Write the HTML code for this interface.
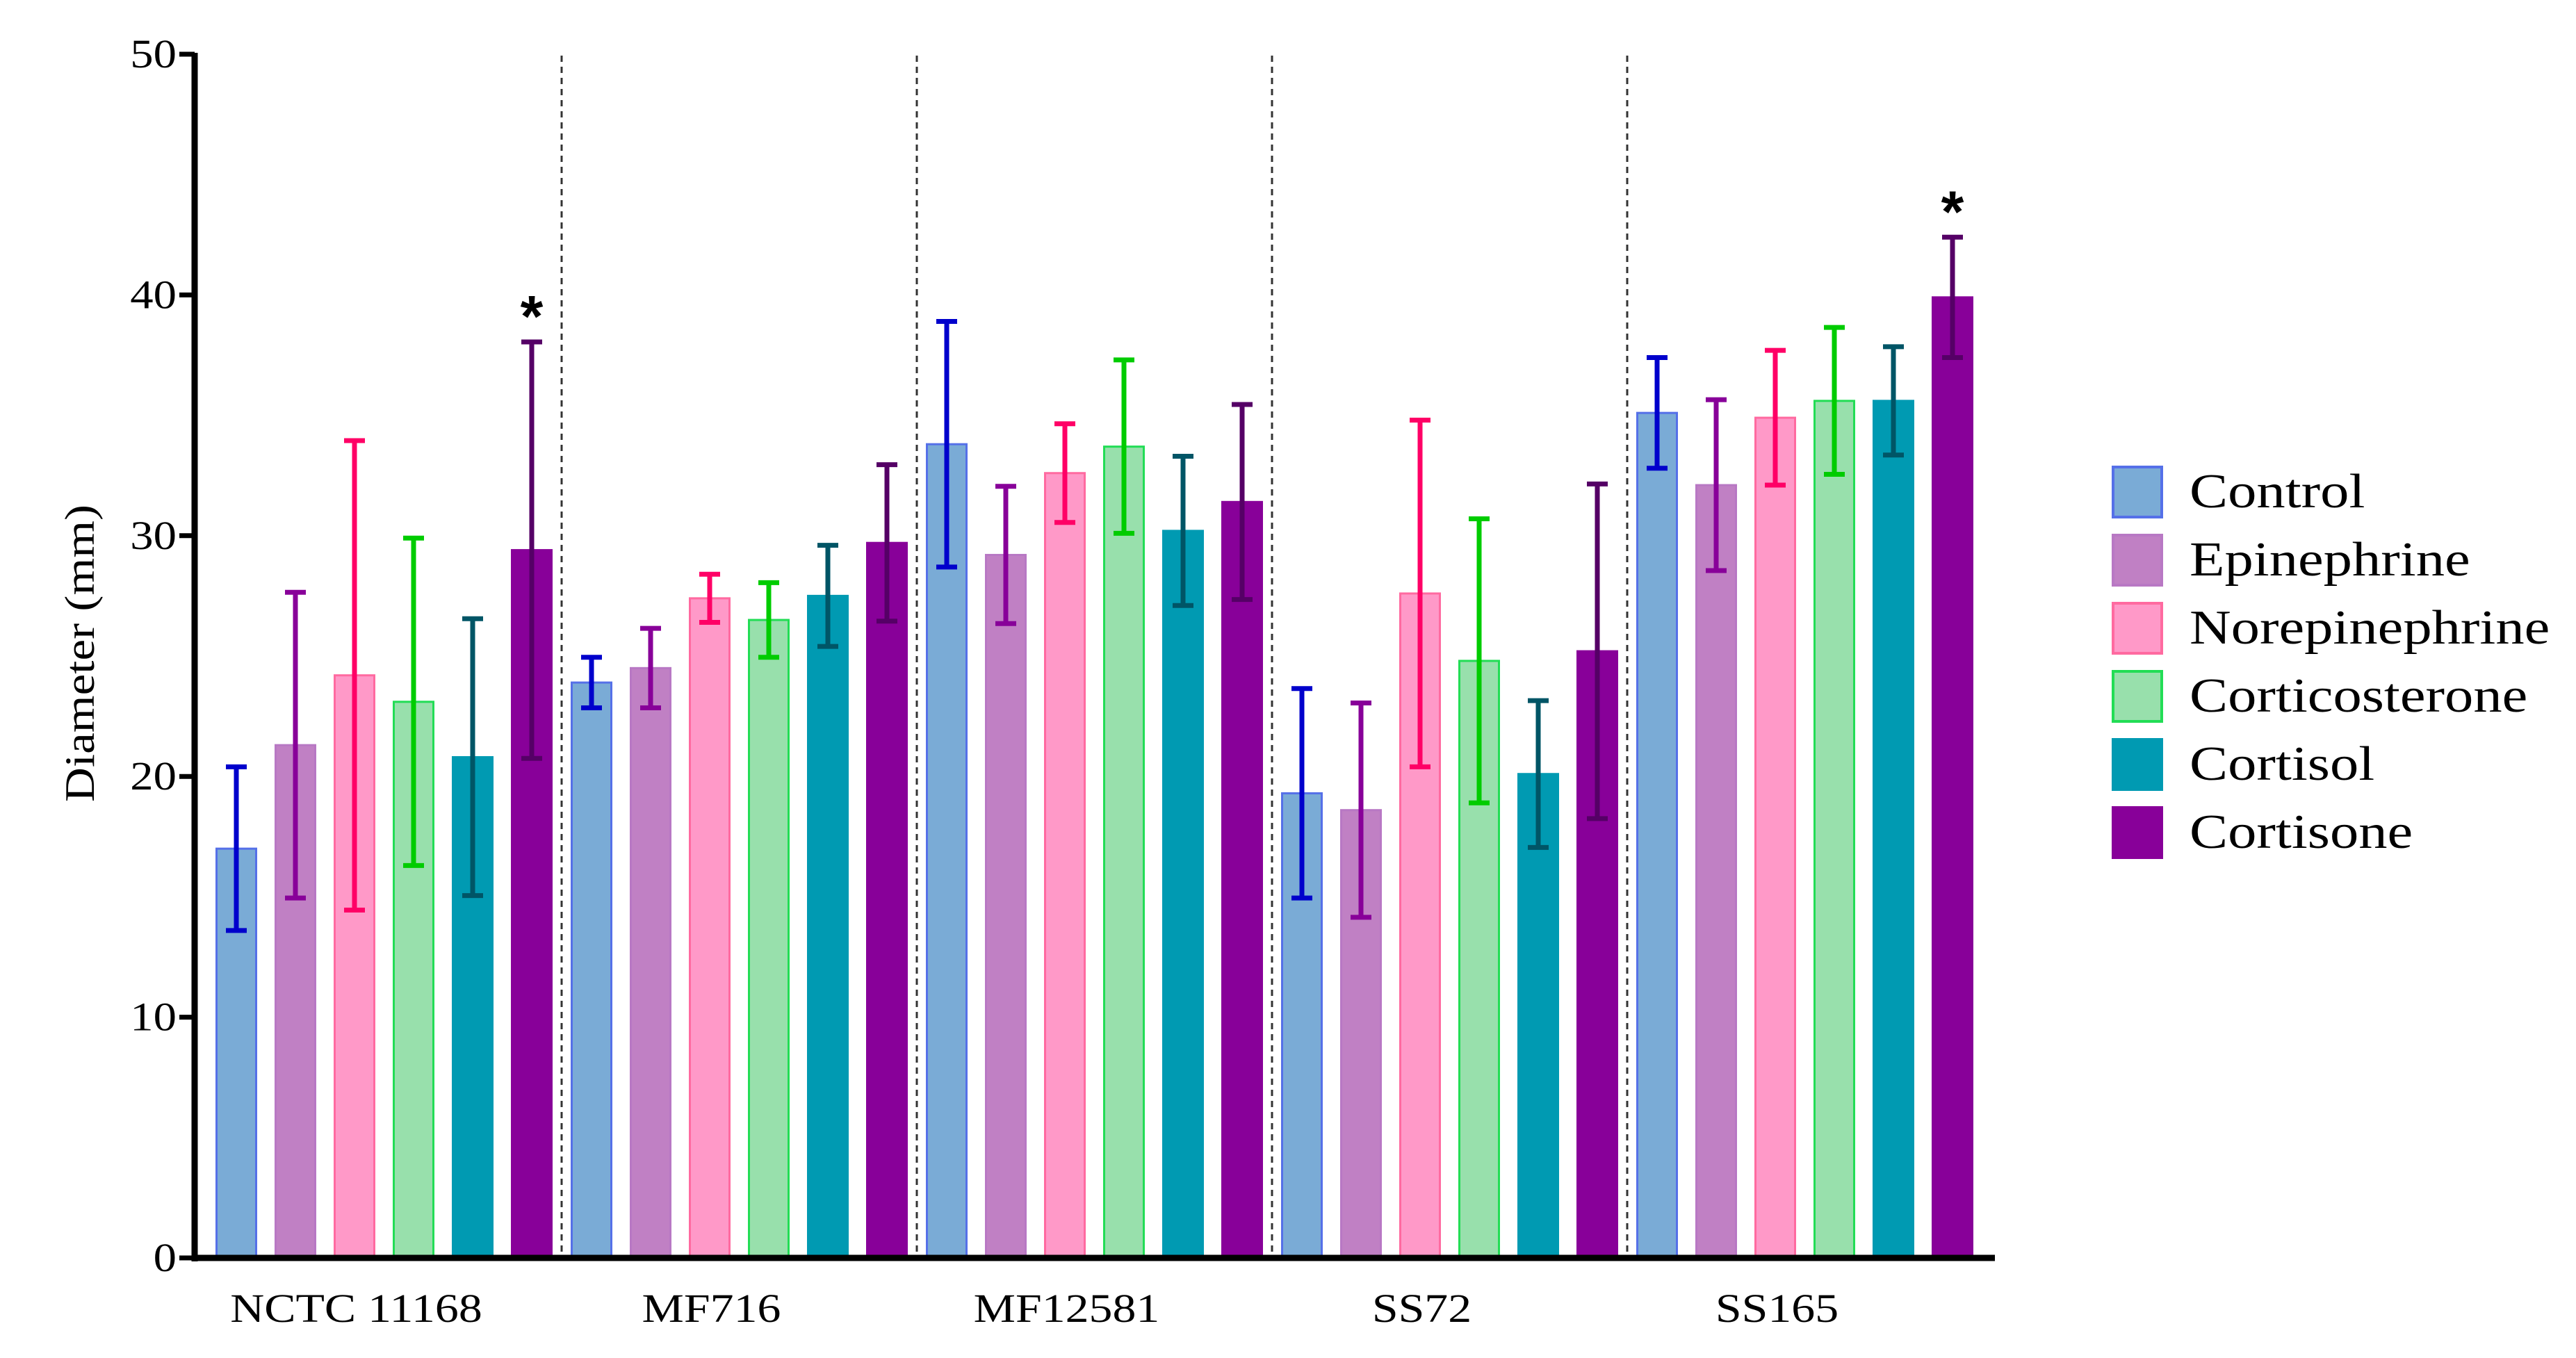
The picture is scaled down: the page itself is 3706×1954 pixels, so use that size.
<!DOCTYPE html>
<html><head><meta charset="utf-8"><style>
html,body{margin:0;padding:0;background:#fff;}
svg{display:block;font-family:"Liberation Serif",serif;}
</style></head><body>
<svg id="chart" width="3706" height="1954" viewBox="0 0 3706 1954" xmlns="http://www.w3.org/2000/svg"></svg>
<script>
const groups = ["NCTC 11168","MF716","MF12581","SS72","SS165"];
const seriesNames = ["Control","Epinephrine","Norepinephrine","Corticosterone","Cortisol","Cortisone"];
const controlVals = [17.0,23.9,33.8,19.3,35.1];
const controlErr = [3.4,1.05,5.1,4.35,2.3];
const epiVals = [21.3,24.5,29.2,18.6,32.1];
const epiErr = [6.35,1.65,2.85,4.45,3.55];
const norVals = [24.2,27.4,32.6,27.6,34.9];
const norErr = [9.75,1.0,2.05,7.2,2.8];
const corticostVals = [23.1,26.5,33.7,24.8,35.6];
const corticostErr = [6.8,1.55,3.6,5.9,3.05];
const cortisolVals = [20.8,27.5,30.2,20.1,35.6];
const cortisolErr = [5.75,2.1,3.1,3.05,2.25];
const cortisoneVals = [29.4,29.7,31.4,25.2,39.9];
const cortisoneErr = [8.65,3.25,4.05,6.95,2.5];
const yTicks = [0,10,20,30,40,50];
const significant = [[0,5],[4,5]];

const values=[controlVals,epiVals,norVals,corticostVals,cortisolVals,cortisoneVals];
const errs=[controlErr,epiErr,norErr,corticostErr,cortisolErr,cortisoneErr];
const fills=["#7aabd6","#c080c4","#ff99c8","#98e0ac","#009ab2","#880099"];
const strokes=["#5570e8","#b878c4","#ff6aa0","#22dd55","#009ab2","#880099"];
const errCols=["#0000cc","#880099","#ff0066","#00cc00","#005566","#550066"];

const svg=document.getElementById('chart');
const NS="http://www.w3.org/2000/svg";
function mk(t,a,p){const e=document.createElementNS(NS,t);for(const k in a)e.setAttribute(k,a[k]);(p||svg).appendChild(e);return e;}
const X0=280,Y0=1810,Y50=78,XEND=2870;
const yS=v=>Y0-(Y0-Y50)*v/50;
const groupW=511, step=85, barW=57, firstC=340;
const xC=(g,s)=>firstC+g*groupW+s*step;
function stretch(t,f){const w=t.getComputedTextLength();t.setAttribute('textLength',w*f);t.setAttribute('lengthAdjust','spacingAndGlyphs');}

for(let g=1;g<groups.length;g++){
  const sx=(xC(g-1,5)+xC(g,0))/2;
  const l=mk('line',{x1:sx,x2:sx,y1:Y50+2,y2:Y0,stroke:'#333','stroke-width':3,'stroke-dasharray':'9,7'});
  
  
}
for(let s=0;s<6;s++){for(let g=0;g<groups.length;g++){
  const v=values[s][g],e=errs[s][g],cx=xC(g,s);
  const r=mk('rect',{x:cx-barW/2,y:yS(v),width:barW,height:Y0-yS(v),fill:fills[s],stroke:strokes[s],'stroke-width':3});
  
  
  const eg=mk('g',{stroke:errCols[s],'stroke-width':7,fill:'none'});
  
  
  mk('line',{x1:cx,x2:cx,y1:yS(v+e),y2:yS(v-e)},eg);
  mk('line',{x1:cx-15,x2:cx+15,y1:yS(v+e),y2:yS(v+e)},eg);
  mk('line',{x1:cx-15,x2:cx+15,y1:yS(v-e),y2:yS(v-e)},eg);
}}
significant.forEach(([g,s])=>{
  const t=mk('text',{x:xC(g,s),y:yS(values[s][g]+errs[s][g])-8,'font-size':84,'font-weight':'bold','text-anchor':'middle','font-family':'Liberation Sans, sans-serif'});
  t.textContent='*';
  
  
});
const ax=mk('g',{stroke:'#000',fill:'none'});


mk('line',{x1:X0,x2:X0,y1:Y50-2,y2:Y0+5,'stroke-width':9},ax);
mk('line',{x1:X0-4,x2:XEND,y1:Y0,y2:Y0,'stroke-width':9},ax);
yTicks.forEach(t=>{
  mk('line',{x1:X0-22,x2:X0,y1:yS(t),y2:yS(t),'stroke-width':7},ax);
  const tx=mk('text',{x:X0-26,y:yS(t)+19,'font-size':58,'text-anchor':'end',fill:'#000'});
  tx.textContent=t;
  stretch(tx,1.15);
  
  
});
groups.forEach((g,i)=>{
  const t=mk('text',{x:(xC(i,0)+xC(i,5))/2-40,y:1902,'font-size':58,'text-anchor':'middle',fill:'#000'});
  t.textContent=g;
  stretch(t,1.17);
  
  
});
const yt=mk('text',{x:0,y:0,'font-size':60,'text-anchor':'middle',transform:'translate(135,940) rotate(-90)',fill:'#000'});
yt.textContent='Diameter (mm)';
yt.setAttribute('textLength',428);
yt.setAttribute('lengthAdjust','spacingAndGlyphs');


seriesNames.forEach((n,i)=>{
  const y=672+i*98;
  const g=mk('g',{});
  
  
  mk('rect',{x:3040,y:y,width:70,height:72,fill:fills[i],stroke:strokes[i],'stroke-width':4},g);
  const t=mk('text',{x:3150,y:y+58,'font-size':70,fill:'#000'},g);
  t.textContent=n;
  stretch(t,1.18);
});
</script>
</body></html>
